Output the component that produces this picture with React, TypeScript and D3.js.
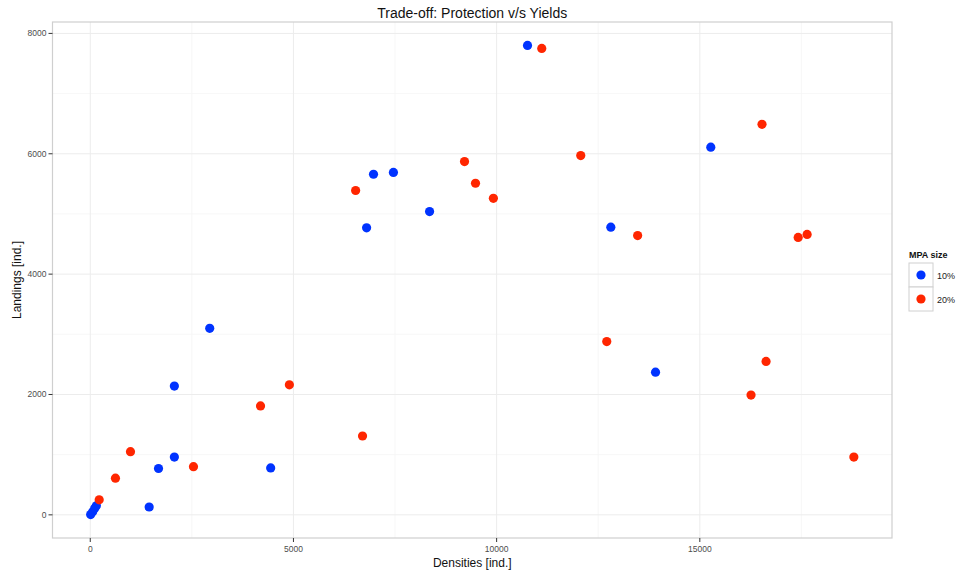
import React from "react";
import * as d3 from "d3";

// Densities [ind.] and Landings [ind.] per MPA size scenario
const density10 = [10, 60, 110, 150, 1450, 1680, 2070, 2070, 2940, 4440, 6800, 6970, 7460, 8350, 10760, 12810, 13910, 15270];
const landings10 = [5, 50, 110, 150, 130, 770, 960, 2140, 3100, 780, 4770, 5660, 5690, 5040, 7800, 4780, 2370, 6110];
const density20 = [220, 620, 990, 2540, 4190, 4900, 6530, 6700, 9210, 9480, 9920, 11110, 12070, 12710, 13470, 16260, 16530, 16630, 17420, 17640, 18790];
const landings20 = [250, 610, 1050, 800, 1810, 2160, 5390, 1310, 5870, 5510, 5260, 7750, 5970, 2880, 4640, 1990, 6490, 2550, 4610, 4660, 960];

const groups = ["10%", "20%"];
const groupColors = ["#0033ff", "#ff2600"];
const xTicks = [0, 5000, 10000, 15000];
const yTicks = [0, 2000, 4000, 6000, 8000];

export default function App() {
  const width = 956;
  const height = 576;
  const panel = { left: 52.5, right: 892, top: 22, bottom: 538 };

  const allX = [...density10, ...density20];
  const allY = [...landings10, ...landings20];
  const [x0, x1] = d3.extent(allX) as [number, number];
  const [y0, y1] = d3.extent(allY) as [number, number];
  const xPad = (x1 - x0) * 0.05;
  const yPad = (y1 - y0) * 0.05;

  const x = d3.scaleLinear().domain([x0 - xPad, x1 + xPad]).range([panel.left, panel.right]);
  const y = d3.scaleLinear().domain([y0 - yPad, y1 + yPad]).range([panel.bottom, panel.top]);

  const xMinor = d3.range(2500, 20000, 5000).filter((v) => x(v) < panel.right);
  const yMinor = d3.range(1000, 9000, 2000).filter((v) => y(v) > panel.top);

  const series = [
    { name: groups[0], color: groupColors[0], xs: density10, ys: landings10 },
    { name: groups[1], color: groupColors[1], xs: density20, ys: landings20 },
  ];

  const font = "'Liberation Sans', Arial, Helvetica, sans-serif";
  const cx = (panel.left + panel.right) / 2;
  const cy = (panel.top + panel.bottom) / 2;

  return (
    <svg width={width} height={height} style={{ position: "absolute", left: 0, top: 0, background: "#fff" }} fontFamily={font}>
      <rect x={0} y={0} width={width} height={height} fill="#fff" />
      {/* grid */}
      <g>
        {xMinor.map((v) => (
          <line key={"xm" + v} x1={x(v)} x2={x(v)} y1={panel.top} y2={panel.bottom} stroke="#f5f5f5" strokeWidth={0.8} />
        ))}
        {yMinor.map((v) => (
          <line key={"ym" + v} x1={panel.left} x2={panel.right} y1={y(v)} y2={y(v)} stroke="#f5f5f5" strokeWidth={0.8} />
        ))}
        {xTicks.map((v) => (
          <line key={"xg" + v} x1={x(v)} x2={x(v)} y1={panel.top} y2={panel.bottom} stroke="#ececec" strokeWidth={1} />
        ))}
        {yTicks.map((v) => (
          <line key={"yg" + v} x1={panel.left} x2={panel.right} y1={y(v)} y2={y(v)} stroke="#ececec" strokeWidth={1} />
        ))}
      </g>
      {/* points */}
      <g>
        {series.map((s) =>
          s.xs.map((d, i) => (
            <circle key={s.name + i} cx={x(d)} cy={y(s.ys[i])} r={4.6} fill={s.color} />
          ))
        )}
      </g>
      {/* panel border */}
      <rect x={panel.left} y={panel.top} width={panel.right - panel.left} height={panel.bottom - panel.top} fill="none" stroke="#cfcfcf" strokeWidth={1.2} />
      {/* axes */}
      <g fontSize={8.5} fill="#4d4d4d">
        {xTicks.map((v) => (
          <g key={"xt" + v}>
            <line x1={x(v)} x2={x(v)} y1={panel.bottom} y2={panel.bottom + 4} stroke="#333" strokeWidth={1} />
            <text x={x(v)} y={panel.bottom + 14} textAnchor="middle">{v}</text>
          </g>
        ))}
        {yTicks.map((v) => (
          <g key={"yt" + v}>
            <line x1={panel.left - 4} x2={panel.left} y1={y(v)} y2={y(v)} stroke="#333" strokeWidth={1} />
            <text x={panel.left - 6} y={y(v) + 3} textAnchor="end">{v}</text>
          </g>
        ))}
      </g>
      <text x={cx} y={567} textAnchor="middle" fontSize={12} fill="#111">Densities [ind.]</text>
      <text transform={`translate(21,${cy}) rotate(-90)`} textAnchor="middle" fontSize={12} fill="#111">Landings [ind.]</text>
      <text x={cx} y={17.5} textAnchor="middle" fontSize={14} fill="#111">Trade-off: Protection v/s Yields</text>
      {/* legend */}
      <g>
        <text x={909} y={258} fontSize={9} fontWeight="bold" fill="#111">MPA size</text>
        {series.map((s, i) => (
          <g key={"lg" + s.name} transform={`translate(909,${263 + i * 24})`}>
            <rect x={0} y={0} width={24} height={24} fill="#fff" stroke="#d0d0d0" strokeWidth={1} />
            <circle cx={12} cy={12} r={4.6} fill={s.color} />
            <text x={28} y={15.5} fontSize={9} fill="#222">{s.name}</text>
          </g>
        ))}
      </g>
    </svg>
  );
}
